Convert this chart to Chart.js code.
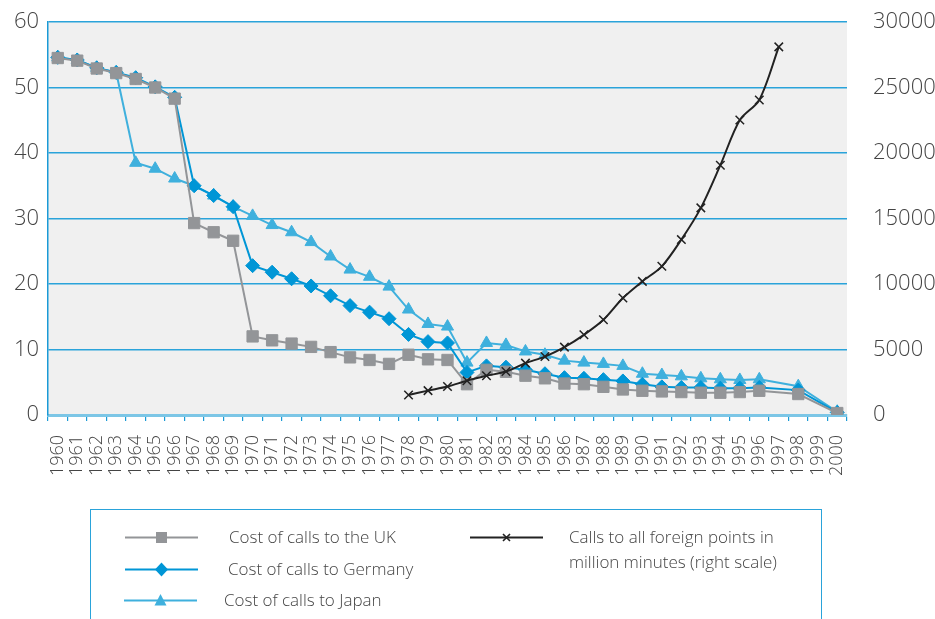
<!DOCTYPE html>
<html>
<head>
<meta charset="utf-8">
<script src="https://cdn.jsdelivr.net/npm/chart.js@4.4.0/dist/chart.umd.min.js"></script>
<style>
  body { margin: 0; background: #fff; }
  #wrap { position: relative; width: 935px; height: 619px; overflow: hidden; }
  #legend {
    position: absolute; left: 90px; top: 509px; width: 732px; height: 140px;
    border: 1.5px solid #2aa3da; box-sizing: border-box;
    font-family: "Open Sans", sans-serif; font-weight: 300; color: #444;
  }
  .txt { position: absolute; font-size: 17px; line-height: 22px; white-space: nowrap; }
  .sym { position: absolute; }
</style>
</head>
<body>
<div id="wrap">
  <canvas id="chart" width="935" height="619"></canvas>
  <div id="legend"></div>
</div>
<script>
const YEARS = [
  "1960", "1961", "1962", "1963", "1964", "1965", "1966", "1967", "1968", "1969",
  "1970", "1971", "1972", "1973", "1974", "1975", "1976", "1977", "1978", "1979",
  "1980", "1981", "1982", "1983", "1984", "1985", "1986", "1987", "1988", "1989",
  "1990", "1991", "1992", "1993", "1994", "1995", "1996", "1997", "1998", "1999",
  "2000",
];

const UK = [
  54.5, 54.1, 52.9, 52.2, 51.3, 50.0, 48.3, 29.3, 27.9, 26.6,
  12.0, 11.4, 10.9, 10.4, 9.6, 8.8, 8.4, 7.8, 9.2, 8.5,
  8.4, 4.7, 6.9, 6.6, 6.0, 5.6, 4.8, 4.7, 4.3, 3.9,
  3.7, 3.6, 3.5, 3.4, 3.4, 3.5, 3.7, null, 3.2, null,
  0.3,
];

const GERMANY = [
  54.6, 54.2, 53.0, 52.3, 51.5, 50.1, 48.5, 35.0, 33.5, 31.8,
  22.8, 21.8, 20.8, 19.7, 18.2, 16.7, 15.7, 14.7, 12.3, 11.2,
  11.0, 6.5, 7.5, 7.3, 6.9, 6.3, 5.7, 5.6, 5.4, 5.2,
  4.7, 4.3, 4.2, 4.2, 4.1, 4.1, 4.2, null, 3.8, null,
  0.4,
];

const JAPAN = [
  54.6, 54.2, 53.0, 52.3, 38.5, 37.6, 36.1, 35.0, 33.5, 31.8,
  30.4, 29.0, 27.9, 26.4, 24.2, 22.2, 21.1, 19.6, 16.1, 13.9,
  13.5, 8.0, 11.0, 10.7, 9.7, 9.2, 8.3, 8.0, 7.8, 7.5,
  6.3, 6.1, 5.9, 5.6, 5.45, 5.35, 5.45, null, 4.4, null,
  0.5,
];

// million minutes, right scale
const CALLS = [
  null, null, null, null, null, null, null, null, null, null,
  null, null, null, null, null, null, null, null, 1530, 1860,
  2170, 2620, 2990, 3320, 3960, 4460, 5180, 6120, 7270, 8930,
  10200, 11350, 13390, 15810, 19070, 22520, 24050, 28100, null, null,
  null,
];

const LEFT_TICKS = [0, 10, 20, 30, 40, 50, 60];
const RIGHT_TICKS = [0, 5000, 10000, 15000, 20000, 25000, 30000];

const FONT = '"Open Sans", sans-serif';
const TEXT = "#444";
const GRID = "#2aa3da";

const UK_COLOR = "#939598";
const DE_COLOR = "#0096d6";
const JP_COLOR = "#3fb0dd";
const CALLS_COLOR = "#222222";

const plotBackground = {
  id: "plotBackground",
  beforeDraw(chart) {
    const { ctx, chartArea: a } = chart;
    ctx.save();
    ctx.fillStyle = "#f0f0f0";
    ctx.fillRect(a.left, a.top, a.right - a.left, a.bottom - a.top);
    ctx.restore();
  },
};

function series(label, data, color, style, radius, extra) {
  return Object.assign({
    label: label,
    data: data,
    borderColor: color,
    backgroundColor: color,
    pointBackgroundColor: color,
    pointBorderColor: color,
    pointStyle: style,
    pointRadius: radius,
    pointBorderWidth: 1,
    borderWidth: 2,
    tension: 0,
    spanGaps: true,
    yAxisID: "y",
  }, extra || {});
}

// vertical axes: fixed width, no extra top/bottom padding from the labels
function fixWidth(w) {
  return (s) => {
    s.width = w;
    s.paddingTop = 0;
    s.paddingBottom = 0;
  };
}

new Chart(document.getElementById("chart"), {
  type: "line",
  data: {
    labels: YEARS,
    datasets: [
      series("Cost of calls to the UK", UK, UK_COLOR, "rect", 8),
      series("Cost of calls to Germany", GERMANY, DE_COLOR, "rectRot", 7),
      series("Cost of calls to Japan", JAPAN, JP_COLOR, "triangle", 7),
      series("Calls to all foreign points in million minutes (right scale)", CALLS, CALLS_COLOR, "crossRot", 6, {
        yAxisID: "y1",
        tension: 0.3,
        pointBorderWidth: 1.5,
        order: -1,
      }),
    ],
  },
  options: {
    responsive: false,
    animation: false,
    layout: { padding: { top: 22 } },
    plugins: {
      legend: { display: false },
      tooltip: { enabled: false },
    },
    scales: {
      x: {
        type: "category",
        offset: true,
        grid: {
          offset: true,
          drawOnChartArea: false,
          drawTicks: true,
          tickLength: 6,
          color: "#1a9ad6",
          lineWidth: 1.2,
        },
        border: { display: true, color: "#7cc6e6", width: 3 },
        ticks: {
          autoSkip: false,
          maxRotation: 90,
          minRotation: 90,
          padding: 14,
          color: TEXT,
          font: { family: FONT, size: 18, weight: 300 },
        },
        afterFit: (s) => { s.height = 204; },
      },
      y: {
        position: "left",
        min: 0,
        max: 60,
        afterBuildTicks: (s) => { s.ticks = LEFT_TICKS.map((v) => ({ value: v })); },
        ticks: {
          padding: 9,
          color: TEXT,
          font: { family: FONT, size: 22, weight: 300 },
        },
        grid: { color: GRID, lineWidth: 1.5, drawTicks: false },
        border: { display: true, color: "#1a9ad6", width: 1.5 },
        afterFit: fixWidth(48),
      },
      y1: {
        position: "right",
        min: 0,
        max: 30000,
        afterBuildTicks: (s) => { s.ticks = RIGHT_TICKS.map((v) => ({ value: v })); },
        ticks: {
          padding: 26,
          color: TEXT,
          font: { family: FONT, size: 22, weight: 300 },
          callback: (v) => String(v),
        },
        grid: { drawOnChartArea: false, drawTicks: false },
        border: { display: false },
        afterFit: fixWidth(88),
      },
    },
  },
  plugins: [plotBackground],
});

// legend: two columns inside a framed box
const LEGEND_ITEMS = [
  { text: ["Cost of calls to the UK"], color: UK_COLOR, marker: "square", sx: 34, sy: 27, tx: 138 },
  { text: ["Cost of calls to Germany"], color: DE_COLOR, marker: "diamond", sx: 34, sy: 59, tx: 137 },
  { text: ["Cost of calls to Japan"], color: JP_COLOR, marker: "triangle", sx: 33, sy: 90, tx: 133 },
  { text: ["Calls to all foreign points in", "million minutes (right scale)"], color: CALLS_COLOR, marker: "cross", sx: 379, sy: 27, tx: 478 },
];

function markerSvg(kind, color) {
  if (kind === "square") return `<rect x="31" y="6" width="11" height="11" fill="${color}"/>`;
  if (kind === "diamond") return `<polygon points="36.5,4.5 43,11.5 36.5,18.5 30,11.5" fill="${color}"/>`;
  if (kind === "triangle") return `<polygon points="36.5,5 42.5,16.5 30.5,16.5" fill="${color}"/>`;
  return `<path d="M33,8 L40,15 M40,8 L33,15" stroke="${color}" stroke-width="1.6"/>`;
}

const legend = document.getElementById("legend");
LEGEND_ITEMS.forEach((it) => {
  const sym = document.createElement("div");
  sym.className = "sym";
  sym.style.left = it.sx + "px";
  sym.style.top = it.sy - 11.5 + "px";
  sym.innerHTML = `<svg width="74" height="23"><line x1="0" y1="11.5" x2="73" y2="11.5" stroke="${it.color}" stroke-width="2.2"/>${markerSvg(it.marker, it.color)}</svg>`;
  legend.appendChild(sym);

  it.text.forEach((line, i) => {
    const t = document.createElement("div");
    t.className = "txt";
    t.style.left = it.tx + "px";
    t.style.top = it.sy - 11 + i * 25 + "px";
    t.textContent = line;
    legend.appendChild(t);
  });
});
</script>
</body>
</html>
